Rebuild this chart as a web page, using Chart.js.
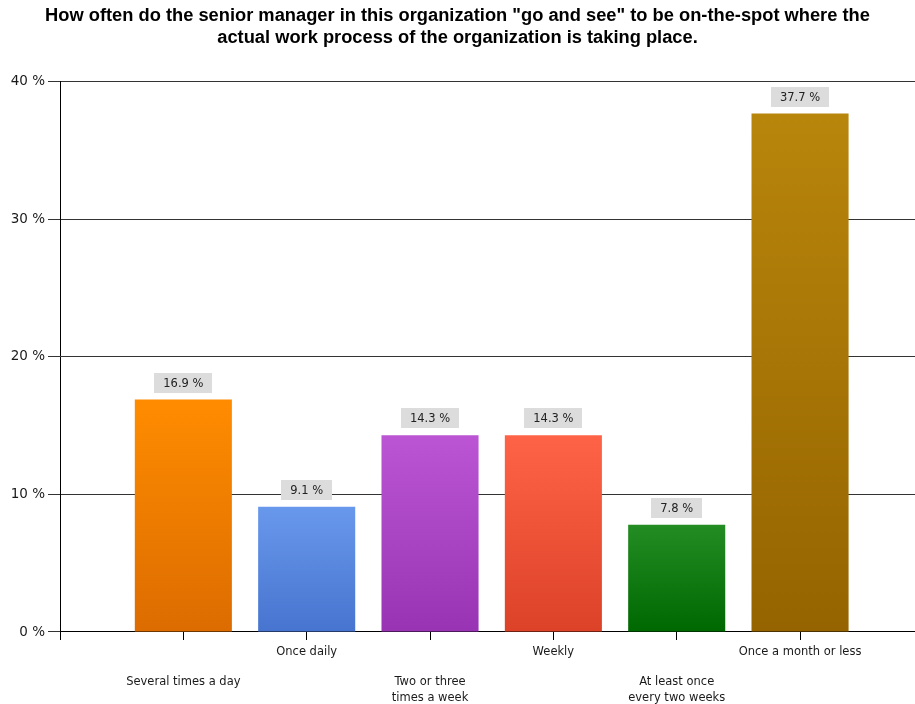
<!DOCTYPE html>
<html>
<head>
<meta charset="utf-8">
<script src="https://cdn.jsdelivr.net/npm/chart.js@4.4.1/dist/chart.umd.min.js"></script>
<style>
  html, body { margin: 0; padding: 0; background: #fff; }
  #wrap { width: 915px; height: 704px; }
</style>
</head>
<body>
<div id="wrap"><canvas id="chart" width="915" height="704"></canvas></div>
<script>
// Survey answers, in display order
const categories = [
  'Several times a day',
  'Once daily',
  'Two or three times a week',
  'Weekly',
  'At least once every two weeks',
  'Once a month or less'
];
// Axis label lines for each answer
const labelLines = [
  ['Several times a day'],
  ['Once daily'],
  ['Two or three', 'times a week'],
  ['Weekly'],
  ['At least once', 'every two weeks'],
  ['Once a month or less']
];
// Share of respondents, percent
const values = [16.9, 9.1, 14.3, 14.3, 7.8, 37.7];
// Bar gradient colours (top, bottom)
const topColors = ['#ff8c00', '#6898ec', '#bb55d3', '#ff6347', '#238c23', '#b8860b'];
const bottomColors = ['#dc6c00', '#4774cf', '#9834b3', '#dc4228', '#006800', '#956400'];
// Y axis range and step, percent
const yMin = 0, yMax = 40, yStep = 10;

const positions = categories.map((_, i) => i + 1);

function barGradient(ctx) {
  const chart = ctx.chart;
  const i = ctx.dataIndex;
  if (!chart.chartArea || i === undefined) return topColors[i || 0];
  const y = chart.scales.y;
  const yTop = y.getPixelForValue(values[i]);
  const yBot = y.getPixelForValue(0);
  const g = chart.ctx.createLinearGradient(0, yTop, 0, yBot);
  g.addColorStop(0, topColors[i]);
  g.addColorStop(1, bottomColors[i]);
  return g;
}

// Grey value tags above each bar
const valueTags = {
  id: 'valueTags',
  afterDatasetsDraw(chart) {
    const c = chart.ctx;
    const meta = chart.getDatasetMeta(0);
    c.save();
    c.font = '11.5px "DejaVu Sans"';
    c.textAlign = 'center';
    c.textBaseline = 'middle';
    meta.data.forEach((bar, i) => {
      const text = values[i].toFixed(1) + ' %';
      const w = Math.round(c.measureText(text).width) + 18;
      const h = 20;
      const bx = Math.round(bar.x - w / 2);
      const by = Math.round(bar.y - 7 - h);
      c.fillStyle = '#dcdcdc';
      c.fillRect(bx, by, w, h);
      c.fillStyle = '#222';
      c.fillText(text, bar.x, by + h / 2 + 1);
    });
    c.restore();
  }
};

new Chart(document.getElementById('chart'), {
  type: 'bar',
  data: {
    datasets: [{
      data: positions.map((x, i) => ({ x: x, y: values[i] })),
      backgroundColor: barGradient,
      borderWidth: 0,
      barPercentage: 0.787,
      categoryPercentage: 1
    }]
  },
  options: {
    responsive: false,
    animation: false,
    events: [],
    layout: { padding: 0 },
    plugins: {
      legend: { display: false },
      tooltip: { enabled: false },
      title: {
        display: true,
        text: [
          'How often do the senior manager in this organization "go and see" to be on-the-spot where the',
          'actual work process of the organization is taking place.'
        ],
        color: '#000',
        font: { family: '"Liberation Sans", Arial, sans-serif', size: 18.3, weight: 'bold', lineHeight: 1.2 },
        padding: { top: 5, bottom: 33 }
      }
    },
    scales: {
      x: {
        type: 'linear',
        min: 0,
        max: 6.932,
        offset: false,
        afterFit: (scale) => { scale.height = 72; },
        border: { display: true, color: '#000', width: 1 },
        grid: { display: true, offset: false, drawOnChartArea: false, drawTicks: true, tickLength: 8, color: '#000' },
        ticks: {
          stepSize: 1,
          includeBounds: false,
          autoSkip: false,
          maxRotation: 0,
          minRotation: 0,
          padding: 4,
          color: '#1a1a1a',
          font: { family: '"DejaVu Sans", sans-serif', size: 11.5, lineHeight: 15.3 / 11.5 },
          callback: (value) => {
            const i = value - 1;
            if (i < 0 || i >= labelLines.length || !Number.isInteger(i)) return '';
            return i % 2 === 0 ? ['', ''].concat(labelLines[i]) : labelLines[i];
          }
        }
      },
      y: {
        min: yMin,
        max: yMax,
        border: { display: true, color: '#000', width: 1 },
        grid: { color: '#333', tickLength: 12, drawTicks: true },
        afterFit: (scale) => { scale.width = 60; },
        ticks: {
          stepSize: yStep,
          padding: 3,
          color: '#1a1a1a',
          font: { family: '"DejaVu Sans", sans-serif', size: 13.5 },
          callback: (v) => v + ' %'
        }
      }
    }
  },
  plugins: [valueTags]
});
</script>
</body>
</html>
